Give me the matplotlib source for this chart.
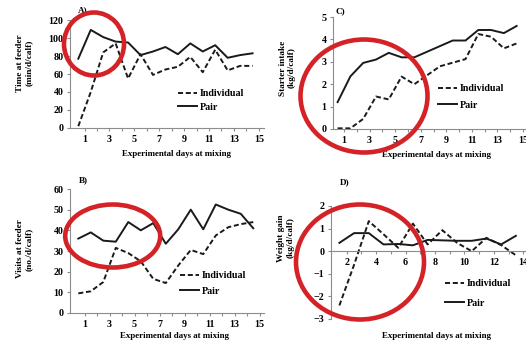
import matplotlib
matplotlib.use("Agg")
import matplotlib.pyplot as plt
from matplotlib.patches import Ellipse
import numpy as np

# canvas size in pixels (dpi 100)
W, H = 526, 343

# --- data: mean values per experimental day ---
days = np.arange(1, 16)
time_individual = [2, 40, 84, 94, 55, 82, 59, 65, 68, 79, 62, 87, 64, 69, 69]
time_pair = [77, 109, 101, 96, 95, 81, 85, 90, 82, 94, 85, 92, 78, 81, 83]

visits_individual = [9.5, 10.5, 15, 31.5, 29, 25, 16.5, 14.5, 23, 30.5, 28.5, 37.5, 41.5, 43, 44]
visits_pair = [36, 39, 35, 34.5, 44, 40, 43.5, 33.5, 40.5, 50, 40.5, 52.5, 50, 48, 41]

starter_individual = [0.03, 0.03, 0.45, 1.45, 1.32, 2.34, 2.0, 2.4, 2.8, 2.96, 3.12, 4.24, 4.12, 3.6, 3.82]
starter_pair = [1.2, 2.35, 2.95, 3.1, 3.4, 3.2, 3.2, 3.45, 3.7, 3.95, 3.95, 4.42, 4.42, 4.28, 4.6]

gain_days = np.arange(2, 15)
gain_individual = [-2.4, -0.6, 1.33, 0.75, 0.15, 1.22, 0.3, 0.93, 0.37, 0.0, 0.59, 0.27, -0.18]
gain_pair = [0.37, 0.8, 0.8, 0.3, 0.32, 0.26, 0.5, 0.48, 0.46, 0.46, 0.56, 0.3, 0.68]

FONT = dict(family="Liberation Serif", weight="bold")
FS = 7.2          # tick labels and legend
FS_TITLE = 6.4    # axis titles
AXIS_GREY = "#8c8c8c"
LINE = "#1a1a1a"
RED = "#d42226"

plt.rcParams["font.family"] = "Liberation Serif"
plt.rcParams["font.weight"] = "bold"


def px_box(left, top, right, bottom):
    return [left / W, 1 - bottom / H, (right - left) / W, (bottom - top) / H]


def fx(x):
    return x / W


def fy(y):
    return 1 - y / H


fig = plt.figure(figsize=(W / 100, H / 100), dpi=100)


def draw_panel(box, x, ind, pair, xlim, ylim, yticks, label_every_from, zero_axis=False):
    ax = fig.add_axes(px_box(*box))
    ax.plot(x, ind, color=LINE, lw=1.4, ls=(0, (2.6, 1.4)), label="Individual")
    ax.plot(x, pair, color=LINE, lw=1.4, label="Pair")
    ax.set_xlim(*xlim)
    ax.set_ylim(*ylim)
    ax.set_yticks(yticks)
    # category boundaries carry the tick marks, every other one is labelled
    ax.set_xticks(x + 0.5)
    ax.set_xticklabels([str(d) if (d - label_every_from) % 2 == 0 else "" for d in x])
    for side in ("top", "right"):
        ax.spines[side].set_visible(False)
    for side in ("left", "bottom"):
        ax.spines[side].set_color(AXIS_GREY)
        ax.spines[side].set_linewidth(0.8)
    if zero_axis:
        ax.spines["bottom"].set_position(("data", 0))
    ax.tick_params(direction="out", length=2.2, width=0.8, color=AXIS_GREY,
                   labelsize=FS, pad=2.5)
    return ax


def add_legend(ax, left, top, spacing):
    ax.legend(loc="upper left", bbox_to_anchor=(fx(left), fy(top)),
              bbox_transform=fig.transFigure, frameon=False, fontsize=FS,
              borderpad=0, borderaxespad=0, handlelength=1.9,
              handletextpad=0.3, labelspacing=spacing)


# A) time at feeder
ax_a = draw_panel((70, 20, 264, 128), days, time_individual, time_pair,
                  (0.333, 15.92), (0, 120), range(0, 121, 20), 1)
add_legend(ax_a, 178, 89, 0.45)

# C) starter intake
ax_c = draw_panel((333, 17, 526, 129), days, starter_individual, starter_pair,
                  (0.64, 15.73), (0, 5), range(0, 6), 1)
add_legend(ax_c, 438, 84, 0.75)

# B) visits at feeder
ax_b = draw_panel((70, 189, 264, 313), days, visits_individual, visits_pair,
                  (0.336, 15.86), (0, 60), range(0, 61, 10), 1)
add_legend(ax_b, 180, 271, 0.65)

# D) weight gain
ax_d = draw_panel((331, 206, 526, 319), gain_days, gain_individual, gain_pair,
                  (1.43, 14.69), (-3, 2), range(-3, 3), 2, zero_axis=True)
add_legend(ax_d, 445, 279, 1.05)

# axis titles
ylabels = [
    ((20, 29), 63, "Time at feeder", "(min/d/calf)"),
    ((20, 29), 249, "Visits at feeder", "(no./d/calf)"),
    ((283, 292), 68, "Starter intake", "(kg/d/calf)"),
    ((281, 291), 238, "Weight gain", "(kg/d/calf)"),
]
for (x1, x2), yc, line1, line2 in ylabels:
    fig.text(fx(x1), fy(yc), line1, rotation=90, ha="center", va="center", fontsize=6.7, **FONT)
    fig.text(fx(x2), fy(yc), line2, rotation=90, ha="center", va="center", fontsize=6.7, **FONT)

for xc, yc in [(176, 154), (436, 155), (175, 336), (436, 336)]:
    fig.text(fx(xc), fy(yc), "Experimental days at mixing", ha="center", va="center",
             fontsize=FS_TITLE, **FONT)

for xc, yc, tag in [(83, 10, "A)"), (340, 11, "C)"), (83, 180, "B)"), (345, 182, "D)")]:
    fig.text(fx(xc), fy(yc), tag, ha="center", va="center", fontsize=6.6, **FONT)

# red highlight rings
rings = [(94, 44, 60, 63), (364, 96, 127, 113), (112.7, 236, 95, 63), (360, 262, 128, 115)]
for cx, cy, w, h in rings:
    fig.add_artist(Ellipse((fx(cx), fy(cy)), w / W, h / H, transform=fig.transFigure,
                           fill=False, ec=RED, lw=3.3, zorder=10))

fig.savefig("out.png", dpi=100)
